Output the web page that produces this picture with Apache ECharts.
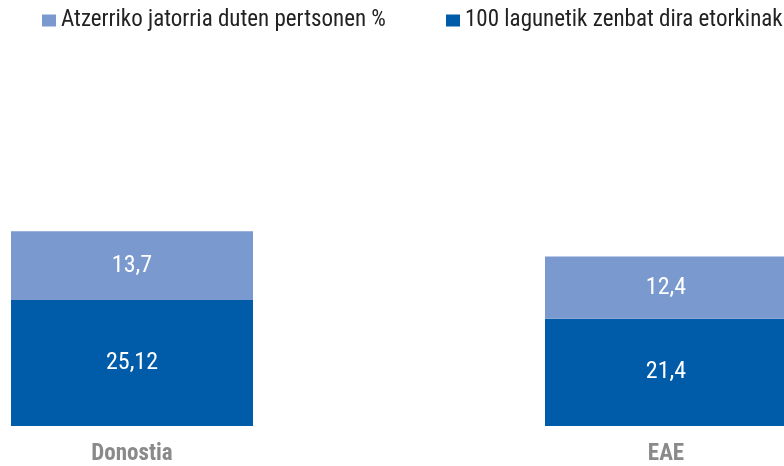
<!DOCTYPE html>
<html><head><meta charset="utf-8">
<script src="https://cdn.jsdelivr.net/npm/echarts@6/dist/echarts.min.js"></script>
<style>html,body{margin:0;padding:0;background:#fff}#c{width:784px;height:466px}</style>
</head><body><div id="c"></div>
<script>
const categories = ['Donostia', 'EAE'];
const seriesNames = ['Atzerriko jatorria duten pertsonen %', '100 lagunetik zenbat dira etorkinak'];
const immigrantsPer100 = [25.12, 21.4];
const foreignOriginPct = [13.7, 12.4];

const FONT = '"Liberation Sans Narrow", "Roboto Condensed", "Liberation Sans", sans-serif';
const fmt = p => String(p.value).replace('.', ',');
const chart = echarts.init(document.getElementById('c'), null, {renderer: 'canvas'});
chart.setOption({
  animation: false,
  grid: {left: -135, width: 1068, bottom: 40, top: 125, outerBoundsMode: 'none', containLabel: false},
  legend: [
    {data: [seriesNames[0]], left: 42, top: 9, padding: 0, itemWidth: 14, itemHeight: 12, icon: 'rect',
     textStyle: {fontFamily: FONT, fontSize: 23, color: '#222'}},
    {data: [seriesNames[1]], left: 446, top: 9, padding: 0, itemWidth: 14, itemHeight: 12, icon: 'rect',
     textStyle: {fontFamily: FONT, fontSize: 23, color: '#222'}}
  ],
  xAxis: {type: 'category', data: categories,
    axisLine: {show: false}, axisTick: {show: false},
    axisLabel: {margin: 17, fontFamily: FONT, fontSize: 23, fontWeight: 'bold', color: '#8a8a8a'}},
  yAxis: {type: 'value', min: 0, max: 60, show: false, splitLine: {show: false}},
  series: [
    {name: seriesNames[1], type: 'bar', stack: 't', data: immigrantsPer100, barWidth: 242,
     itemStyle: {color: '#005BA9'},
     label: {show: true, position: 'inside', formatter: fmt, color: '#fff', fontFamily: FONT, fontSize: 24}},
    {name: seriesNames[0], type: 'bar', stack: 't', data: foreignOriginPct, barWidth: 242,
     itemStyle: {color: '#7A99CF'},
     label: {show: true, position: 'inside', formatter: fmt, color: '#fff', fontFamily: FONT, fontSize: 24}}
  ]
});
</script></body></html>
